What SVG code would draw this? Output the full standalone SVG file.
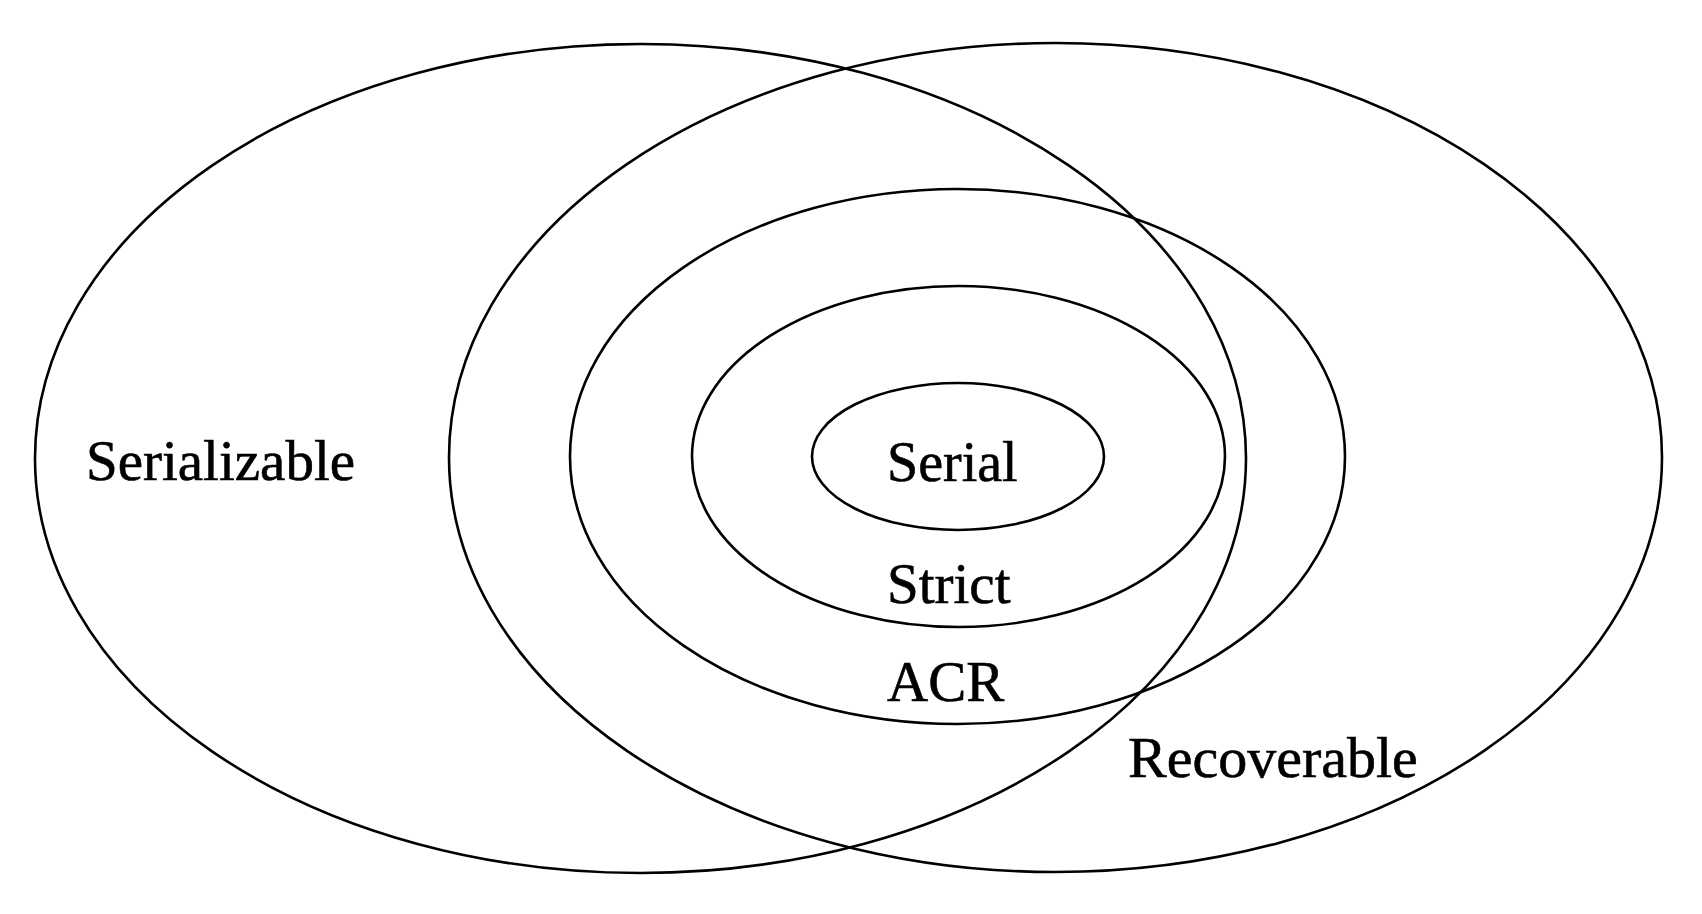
<svg xmlns="http://www.w3.org/2000/svg" width="1702" height="914" viewBox="0 0 1702 914">
<style>
.set{fill:none;stroke:#000;stroke-width:2.6}
.lbl{font-family:"Liberation Serif","Times New Roman",serif;font-size:57px;fill:#000;stroke:#000;stroke-width:0.6}
</style>
<rect width="1702" height="914" fill="#fff"/>
<g id="serializable">
<ellipse class="set" cx="640.5" cy="458.5" rx="605.5" ry="414.5"/>
<text class="lbl" x="86" y="480">Serializable</text>
</g>
<g id="recoverable">
<ellipse class="set" cx="1055.5" cy="457.5" rx="606.5" ry="414.5"/>
<text class="lbl" x="1128" y="777" style="font-size:58px">Recoverable</text>
</g>
<g id="acr">
<ellipse class="set" cx="957.5" cy="456.5" rx="387.5" ry="267.5"/>
<text class="lbl" x="887" y="701">ACR</text>
</g>
<g id="strict">
<ellipse class="set" cx="958.5" cy="456.5" rx="266.5" ry="170.5"/>
<text class="lbl" x="887" y="603">Strict</text>
</g>
<g id="serial">
<ellipse class="set" cx="958" cy="456.5" rx="146" ry="73.5"/>
<text class="lbl" x="887" y="481" style="font-size:56px">Serial</text>
</g>
<g id="connectors"/>
</svg>
